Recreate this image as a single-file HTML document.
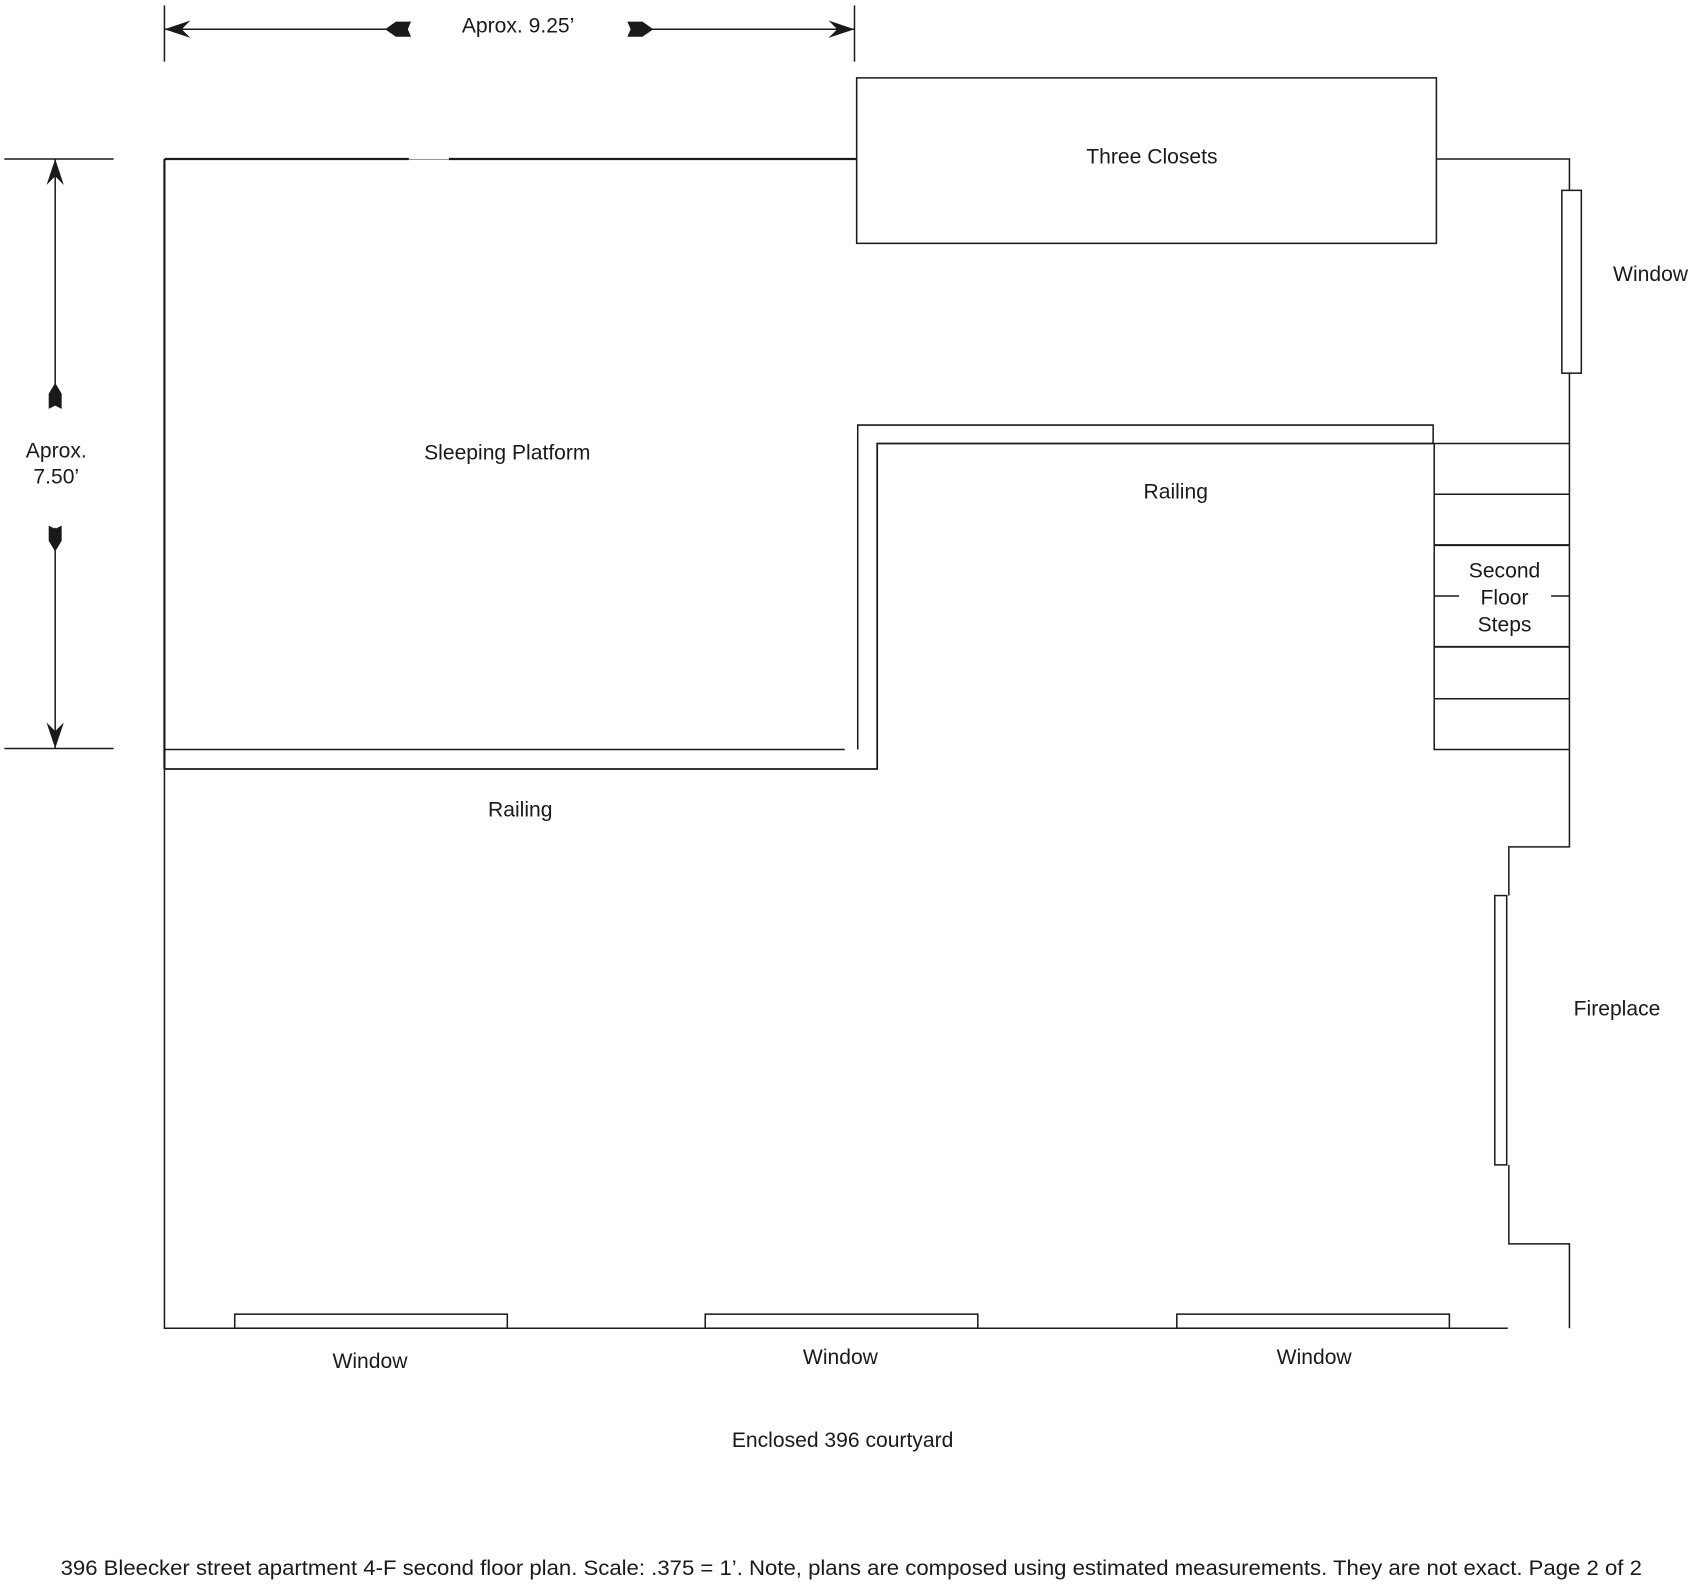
<!DOCTYPE html>
<html><head><meta charset="utf-8"><style>
html,body{margin:0;padding:0;background:#fff;}
svg{display:block;}
text{font-family:"Liberation Sans",Arial,sans-serif;font-size:19.5px;fill:#1a1a1a;}
</style></head><body>
<svg width="1696" height="1584" viewBox="0 0 1568 1464.5" xmlns="http://www.w3.org/2000/svg">
<g stroke="#1a1a1a" stroke-width="1.4" fill="none">
<line x1="152" y1="5" x2="152" y2="57"/>
<line x1="790" y1="5" x2="790" y2="57"/>
<line x1="152" y1="27" x2="375" y2="27"/>
<line x1="590" y1="27" x2="790" y2="27"/>
<line x1="4" y1="147" x2="105" y2="147"/>
<line x1="4" y1="692" x2="105" y2="692"/>
<line x1="51" y1="147" x2="51" y2="375"/>
<line x1="51" y1="488" x2="51" y2="692"/>
<path d="M152 147 H378 M415 147 H792" stroke-width="2"/>
<path d="M378 147.5 H415" stroke-width="0.8" stroke="#888"/>
<path d="M152 147 V711" stroke-width="2"/>
<path d="M152 711 V1228 H1394"/>
<rect x="792" y="72" width="536" height="153"/>
<path d="M1328 147 H1451 V176"/>
<rect x="1444" y="176" width="18" height="169"/>
<path d="M1451 345 V783 H1395 V828"/>
<rect x="1382" y="828" width="11" height="249"/>
<path d="M1395 1077 V1150 H1451 V1228"/>
<rect x="217" y="1215" width="252" height="13"/>
<rect x="652" y="1215" width="252" height="13"/>
<rect x="1088" y="1215" width="252" height="13"/>
<path d="M152 693 H781"/>
<path d="M152 711 H811 V410 H1326" stroke-width="1.6"/>
<path d="M793 693 V393 H1325 V410"/>
<path d="M1326 410 V693 H1451"/>
<line x1="1326" y1="410" x2="1451" y2="410"/>
<line x1="1326" y1="457" x2="1451" y2="457"/>
<line x1="1326" y1="504" x2="1451" y2="504" stroke-width="1.8"/>
<line x1="1326" y1="598" x2="1451" y2="598" stroke-width="1.8"/>
<line x1="1326" y1="646" x2="1451" y2="646"/>
<line x1="1326" y1="551" x2="1349" y2="551"/>
<line x1="1434" y1="551" x2="1451" y2="551"/>
</g>
<g fill="#1a1a1a">
<polygon points="152,27 176,19 168,27 176,35"/>
<polygon points="790,27 766,19 774,27 766,35"/>
<polygon points="356,27 366,20 380,20 377,27 380,34 366,34"/>
<polygon points="604,27 594,20 580,20 583,27 580,34 594,34"/>
<polygon points="51,147 43,171 51,163 59,171"/>
<polygon points="51,692 43,668 51,676 59,668"/>
<polygon points="51,354 45,364 45,378 51,375 57,378 57,364"/>
<polygon points="51,510 45,500 45,486 51,489 57,486 57,500"/>
</g>
<text x="479" y="30" text-anchor="middle">Aprox. 9.25’</text>
<text x="52" y="423" text-anchor="middle">Aprox.</text>
<text x="52" y="447" text-anchor="middle">7.50’</text>
<text x="1065" y="151" text-anchor="middle">Three Closets</text>
<text x="1526" y="260" text-anchor="middle">Window</text>
<text x="469" y="425" text-anchor="middle">Sleeping Platform</text>
<text x="1087" y="461" text-anchor="middle">Railing</text>
<text x="1391" y="534" text-anchor="middle">Second</text>
<text x="1391" y="559" text-anchor="middle">Floor</text>
<text x="1391" y="584" text-anchor="middle">Steps</text>
<text x="481" y="755" text-anchor="middle">Railing</text>
<text x="1495" y="939" text-anchor="middle">Fireplace</text>
<text x="342" y="1265" text-anchor="middle">Window</text>
<text x="777" y="1261" text-anchor="middle">Window</text>
<text x="1215" y="1261" text-anchor="middle">Window</text>
<text x="779" y="1338" text-anchor="middle">Enclosed 396 courtyard</text>
<text x="787" y="1456" text-anchor="middle" textLength="1462" lengthAdjust="spacingAndGlyphs">396 Bleecker street apartment 4-F second floor plan. Scale:  .375 = 1’. Note, plans are composed using estimated measurements. They are not exact. Page 2 of 2</text>
</svg>
</body></html>
